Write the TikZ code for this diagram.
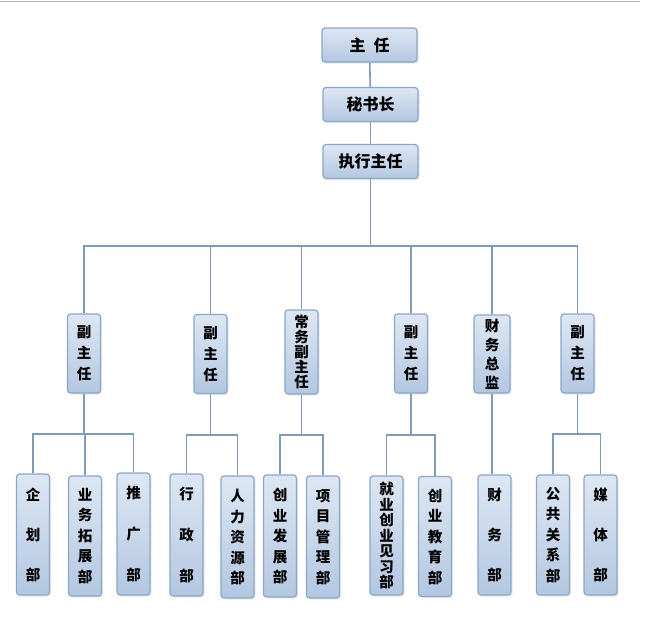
\documentclass[tikz,border=0pt]{standalone}
\usepackage{fontspec}
\newfontfamily\cjk{Noto Sans CJK SC}
\usetikzlibrary{shadows}
\definecolor{boxtop}{HTML}{DDE7F3}
\definecolor{boxbot}{HTML}{B3C7E1}
\definecolor{boxline}{HTML}{8AA6C8}
\definecolor{conn}{HTML}{7F9BBA}
\tikzset{
  orgbox/.style={draw=boxline, line width=1.2pt, rounded corners=3pt,
    top color=boxtop, bottom color=boxbot, inner sep=0pt, align=center,
    drop shadow={opacity=0.18, shadow xshift=1.5pt, shadow yshift=-1.5pt}},
  hbox/.style={orgbox, minimum width=95pt, minimum height=34pt,
    font=\cjk\bfseries\fontsize{16}{18}\selectfont},
  vbox/.style={orgbox, minimum width=33pt},
  vt/.style={font=\cjk\bfseries\fontsize{14.5}{#1}\selectfont},
  link/.style={draw=conn, line width=1.6pt}
}
\begin{document}
\begin{tikzpicture}[x=1pt,y=-1pt]
\useasboundingbox (0,0) rectangle (645,619);
\draw[gray!60, line width=1pt] (0,1) -- (640,1);
% top chain
\node[hbox] (zr) at (369.5,45) {主\hspace{0.5em}任};
\node[hbox] (msz) at (370.5,104.5) {秘书长};
\node[hbox] (zxzr) at (370.5,161.5) {执行主任};
\draw[link] (zr) -- (msz);
\draw[link] (msz) -- (zxzr);
% middle level
\node[vbox, vt=21, minimum height=79pt] (f1) at (84,353.5) {副\\主\\任};
\node[vbox, vt=21, minimum height=79pt] (f2) at (210.5,354) {副\\主\\任};
\node[vbox, vt=15, minimum height=84pt] (cw) at (301.5,352) {常\\务\\副\\主\\任};
\node[vbox, vt=21, minimum height=79pt] (f3) at (411,353.5) {副\\主\\任};
\node[vbox, vt=19, minimum height=78pt, minimum width=36pt] (cz) at (492,354) {财\\务\\总\\监};
\node[vbox, vt=21, minimum height=79pt] (f4) at (577.5,353.5) {副\\主\\任};
\coordinate (bar) at (370.5,246);
\draw[link] (zxzr.south) -- (bar);
\draw[link] (f1.north) |- (bar);
\draw[link] (f4.north) |- (bar);
\draw[link] (f2.north) -- (f2.north |- bar);
\draw[link] (cw.north) -- (cw.north |- bar);
\draw[link] (f3.north) -- (f3.north |- bar);
\draw[link] (cz.north) -- (cz.north |- bar);
% bottom level
\node[vbox, vt=40, minimum height=121pt] (qh) at (33,534.5) {企\\划\\部};
\node[vbox, vt=20.5, minimum height=120pt] (yw) at (85,536) {业\\务\\拓\\展\\部};
\node[vbox, vt=41, minimum height=122pt] (tg) at (133.5,534) {推\\广\\部};
\node[vbox, vt=41, minimum height=122pt] (xz) at (186.5,535) {行\\政\\部};
\node[vbox, vt=20.5, minimum height=122pt] (rl) at (237.5,537) {人\\力\\资\\源\\部};
\node[vbox, vt=20.5, minimum height=122pt] (cy) at (280,536) {创\\业\\发\\展\\部};
\node[vbox, vt=20.5, minimum height=122pt] (xm) at (323,537) {项\\目\\管\\理\\部};
\node[vbox, vt=15.5, minimum height=119pt] (jy) at (386.5,535.5) {就\\业\\创\\业\\见\\习\\部};
\node[vbox, vt=20.5, minimum height=120pt] (jyb) at (435,536.5) {创\\业\\教\\育\\部};
\node[vbox, vt=40, minimum height=120pt] (cwb) at (494.5,535) {财\\务\\部};
\node[vbox, vt=20.5, minimum height=120pt] (gg) at (553,535) {公\\共\\关\\系\\部};
\node[vbox, vt=40, minimum height=120pt] (mt) at (600.5,535) {媒\\体\\部};
% group connectors
\coordinate (b1) at (84,434);
\draw[link] (f1.south) -- (b1);
\draw[link] (qh.north) |- (b1);
\draw[link] (tg.north) |- (b1);
\draw[link] (yw.north) -- (yw.north |- b1);
\coordinate (b2) at (210.5,435);
\draw[link] (f2.south) -- (b2);
\draw[link] (xz.north) |- (b2);
\draw[link] (rl.north) |- (b2);
\coordinate (b3) at (301.5,435);
\draw[link] (cw.south) -- (b3);
\draw[link] (cy.north) |- (b3);
\draw[link] (xm.north) |- (b3);
\coordinate (b4) at (411,435);
\draw[link] (f3.south) -- (b4);
\draw[link] (jy.north) |- (b4);
\draw[link] (jyb.north) |- (b4);
\draw[link] (cz.south) -- (cz.south |- cwb.north);
\coordinate (b6) at (577.5,434);
\draw[link] (f4.south) -- (b6);
\draw[link] (gg.north) |- (b6);
\draw[link] (mt.north) |- (b6);
\end{tikzpicture}
\end{document}
